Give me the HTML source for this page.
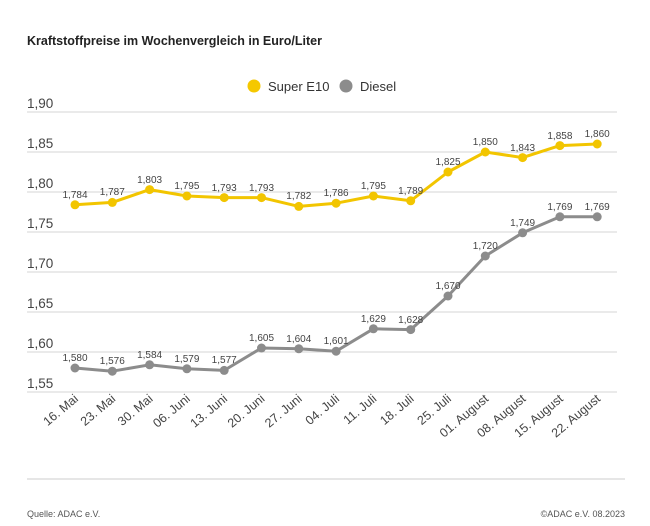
<!DOCTYPE html>
<html><head><meta charset="utf-8"><style>
body{margin:0;background:#fff;}
svg{display:block;font-family:"Liberation Sans","DejaVu Sans",sans-serif;}
</style></head><body>
<svg width="650" height="526" xmlns="http://www.w3.org/2000/svg">
<text x="27" y="45" font-size="12.5" font-weight="bold" fill="#222">Kraftstoffpreise im Wochenvergleich in Euro/Liter</text>
<circle cx="254" cy="86" r="6.5" fill="#f5c800"/>
<text x="268" y="91" font-size="13" fill="#333">Super E10</text>
<circle cx="346" cy="86" r="6.5" fill="#8c8c8c"/>
<text x="360" y="91" font-size="13" fill="#333">Diesel</text>
<g stroke="#d4d4d4" stroke-width="1">
<line x1="27" x2="617" y1="112" y2="112"/><line x1="27" x2="617" y1="152" y2="152"/>
<line x1="27" x2="617" y1="192" y2="192"/><line x1="27" x2="617" y1="232" y2="232"/>
<line x1="27" x2="617" y1="272" y2="272"/><line x1="27" x2="617" y1="312" y2="312"/>
<line x1="27" x2="617" y1="352" y2="352"/><line x1="27" x2="617" y1="392" y2="392"/>
</g>
<g font-size="13.5" fill="#444">
<text x="27" y="108">1,90</text><text x="27" y="148">1,85</text><text x="27" y="188">1,80</text>
<text x="27" y="228">1,75</text><text x="27" y="268">1,70</text><text x="27" y="308">1,65</text>
<text x="27" y="348">1,60</text><text x="27" y="388">1,55</text>
</g>
<polyline fill="none" stroke="#f2c500" stroke-width="3" stroke-linejoin="round" points="75,204.8 112.3,202.4 149.6,189.6 186.9,196 224.2,197.6 261.5,197.6 298.8,206.4 336.1,203.2 373.4,196 410.7,200.8 448,172 485.3,152 522.6,157.6 559.9,145.6 597.2,144"/>
<g fill="#f2c500">
<circle cx="75" cy="204.8" r="4.5"/><circle cx="112.3" cy="202.4" r="4.5"/><circle cx="149.6" cy="189.6" r="4.5"/><circle cx="186.9" cy="196" r="4.5"/><circle cx="224.2" cy="197.6" r="4.5"/><circle cx="261.5" cy="197.6" r="4.5"/><circle cx="298.8" cy="206.4" r="4.5"/><circle cx="336.1" cy="203.2" r="4.5"/><circle cx="373.4" cy="196" r="4.5"/><circle cx="410.7" cy="200.8" r="4.5"/><circle cx="448" cy="172" r="4.5"/><circle cx="485.3" cy="152" r="4.5"/><circle cx="522.6" cy="157.6" r="4.5"/><circle cx="559.9" cy="145.6" r="4.5"/><circle cx="597.2" cy="144" r="4.5"/>
</g>
<polyline fill="none" stroke="#8c8c8c" stroke-width="3" stroke-linejoin="round" points="75,368 112.3,371.2 149.6,364.8 186.9,368.8 224.2,370.4 261.5,348 298.8,348.8 336.1,351.2 373.4,328.8 410.7,329.6 448,296 485.3,256 522.6,232.8 559.9,216.8 597.2,216.8"/>
<g fill="#8c8c8c">
<circle cx="75" cy="368" r="4.5"/><circle cx="112.3" cy="371.2" r="4.5"/><circle cx="149.6" cy="364.8" r="4.5"/><circle cx="186.9" cy="368.8" r="4.5"/><circle cx="224.2" cy="370.4" r="4.5"/><circle cx="261.5" cy="348" r="4.5"/><circle cx="298.8" cy="348.8" r="4.5"/><circle cx="336.1" cy="351.2" r="4.5"/><circle cx="373.4" cy="328.8" r="4.5"/><circle cx="410.7" cy="329.6" r="4.5"/><circle cx="448" cy="296" r="4.5"/><circle cx="485.3" cy="256" r="4.5"/><circle cx="522.6" cy="232.8" r="4.5"/><circle cx="559.9" cy="216.8" r="4.5"/><circle cx="597.2" cy="216.8" r="4.5"/>
</g>
<g font-size="10" fill="#444" text-anchor="middle">
<text x="75" y="198">1,784</text><text x="112.3" y="195">1,787</text><text x="149.6" y="183">1,803</text><text x="186.9" y="189">1,795</text><text x="224.2" y="191">1,793</text><text x="261.5" y="191">1,793</text><text x="298.8" y="199">1,782</text><text x="336.1" y="196">1,786</text><text x="373.4" y="189">1,795</text><text x="410.7" y="194">1,789</text><text x="448" y="165">1,825</text><text x="485.3" y="145">1,850</text><text x="522.6" y="151">1,843</text><text x="559.9" y="139">1,858</text><text x="597.2" y="137">1,860</text>
<text x="75" y="361">1,580</text><text x="112.3" y="364">1,576</text><text x="149.6" y="358">1,584</text><text x="186.9" y="362">1,579</text><text x="224.2" y="363">1,577</text><text x="261.5" y="341">1,605</text><text x="298.8" y="342">1,604</text><text x="336.1" y="344">1,601</text><text x="373.4" y="322">1,629</text><text x="410.7" y="323">1,628</text><text x="448" y="289">1,670</text><text x="485.3" y="249">1,720</text><text x="522.6" y="226">1,749</text><text x="559.9" y="210">1,769</text><text x="597.2" y="210">1,769</text>
</g>
<g font-size="12.5" fill="#444" text-anchor="end">
<text x="79" y="400" transform="rotate(-40 79 400)">16. Mai</text>
<text x="116.3" y="400" transform="rotate(-40 116.3 400)">23. Mai</text>
<text x="153.6" y="400" transform="rotate(-40 153.6 400)">30. Mai</text>
<text x="190.9" y="400" transform="rotate(-40 190.9 400)">06. Juni</text>
<text x="228.2" y="400" transform="rotate(-40 228.2 400)">13. Juni</text>
<text x="265.5" y="400" transform="rotate(-40 265.5 400)">20. Juni</text>
<text x="302.8" y="400" transform="rotate(-40 302.8 400)">27. Juni</text>
<text x="340.1" y="400" transform="rotate(-40 340.1 400)">04. Juli</text>
<text x="377.4" y="400" transform="rotate(-40 377.4 400)">11. Juli</text>
<text x="414.7" y="400" transform="rotate(-40 414.7 400)">18. Juli</text>
<text x="452" y="400" transform="rotate(-40 452 400)">25. Juli</text>
<text x="489.3" y="400" transform="rotate(-40 489.3 400)">01. August</text>
<text x="526.6" y="400" transform="rotate(-40 526.6 400)">08. August</text>
<text x="563.9" y="400" transform="rotate(-40 563.9 400)">15. August</text>
<text x="601.2" y="400" transform="rotate(-40 601.2 400)">22. August</text>
</g>
<line x1="27" x2="625" y1="479" y2="479" stroke="#ccc" stroke-width="1"/>
<text x="27" y="517" font-size="9" fill="#555">Quelle: ADAC e.V.</text>
<text x="625" y="517" font-size="9" fill="#555" text-anchor="end">©ADAC e.V. 08.2023</text>
</svg>
</body></html>
